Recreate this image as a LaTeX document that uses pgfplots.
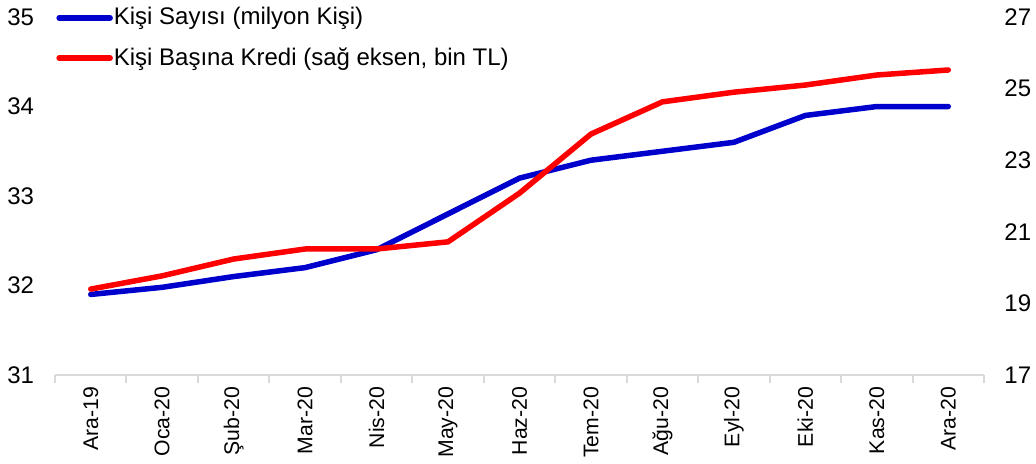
\documentclass[border=0pt]{standalone}
\usepackage{fontspec}
\setmainfont{Liberation Sans}
\usepackage{pgfplots}
\pgfplotsset{compat=1.18}
\definecolor{cblue}{RGB}{0,0,204}
\definecolor{cred}{RGB}{255,0,0}
\definecolor{cgrid}{RGB}{217,217,217}
\begin{document}
\fontsize{12}{14}\selectfont
\begin{tikzpicture}
\useasboundingbox (-27.5pt,-44pt) rectangle (490.5pt,187.5pt);
\pgfplotsset{common/.style={
  scale only axis, width=464.5pt, height=179pt,
  xmin=-0.5, xmax=12.5,
  /pgf/number format/assume math mode=true,
  tick label style={font=\fontsize{12}{14}\selectfont, inner sep=0pt},
  ytick style={draw=none},
  y axis line style={draw=none},
}}
\begin{axis}[common,
  ymin=31, ymax=35, ytick={31,32,33,34,35},
  axis y line*=left, axis x line*=bottom,
  x axis line style={cgrid, line width=1pt, -},
  xtick={0,...,12},
  xticklabels={Ara-19,Oca-20,Şub-20,Mar-20,Nis-20,May-20,Haz-20,Tem-20,Ağu-20,Eyl-20,Eki-20,Kas-20,Ara-20},
  x tick label style={rotate=90, anchor=east, font=\fontsize{10.6}{12}\selectfont},
  xticklabel shift=1.5pt,
  major x tick style={draw=none},
  minor xtick={-0.5,0.5,...,12.5},
  minor x tick style={cgrid, line width=1pt},
  minor tick length=4pt,
  tick align=outside,
  yticklabel shift=6pt,
]
\addplot[cblue, line width=2.75pt, line cap=round, line join=round] coordinates {
(0,31.9) (1,31.98) (2,32.1) (3,32.2) (4,32.4) (5,32.8) (6,33.2) (7,33.4) (8,33.5) (9,33.6) (10,33.9) (11,34.0) (12,34.0)};
\end{axis}
\begin{axis}[common,
  ymin=17, ymax=27, ytick={17,19,21,23,25,27},
  axis y line*=right, axis x line=none,
  xtick=\empty,
  yticklabel shift=10pt,
  legend style={at={(rel axis cs:0,1)}, anchor=north west, draw=none, fill=none,
    xshift=-2.5pt, yshift=7.5pt, row sep=8.5pt, font=\fontsize{12}{14}\selectfont,
    nodes={inner sep=0.5pt}},
  legend cell align=left,
  legend image code/.code={\draw[#1, line cap=round] (0pt,0pt) -- (25.5pt,0pt);},
]
\addlegendimage{cblue, line width=2.75pt}
\addlegendentry{Kişi Sayısı (milyon Kişi)}
\addplot[cred, line width=2.75pt, line cap=round, line join=round] coordinates {
(0,19.40) (1,19.77) (2,20.24) (3,20.52) (4,20.52) (5,20.72) (6,22.08) (7,23.73) (8,24.63) (9,24.9) (10,25.1) (11,25.38) (12,25.52)};
\addlegendentry{Kişi Başına Kredi (sağ eksen, bin TL)}
\end{axis}
\end{tikzpicture}
\end{document}
